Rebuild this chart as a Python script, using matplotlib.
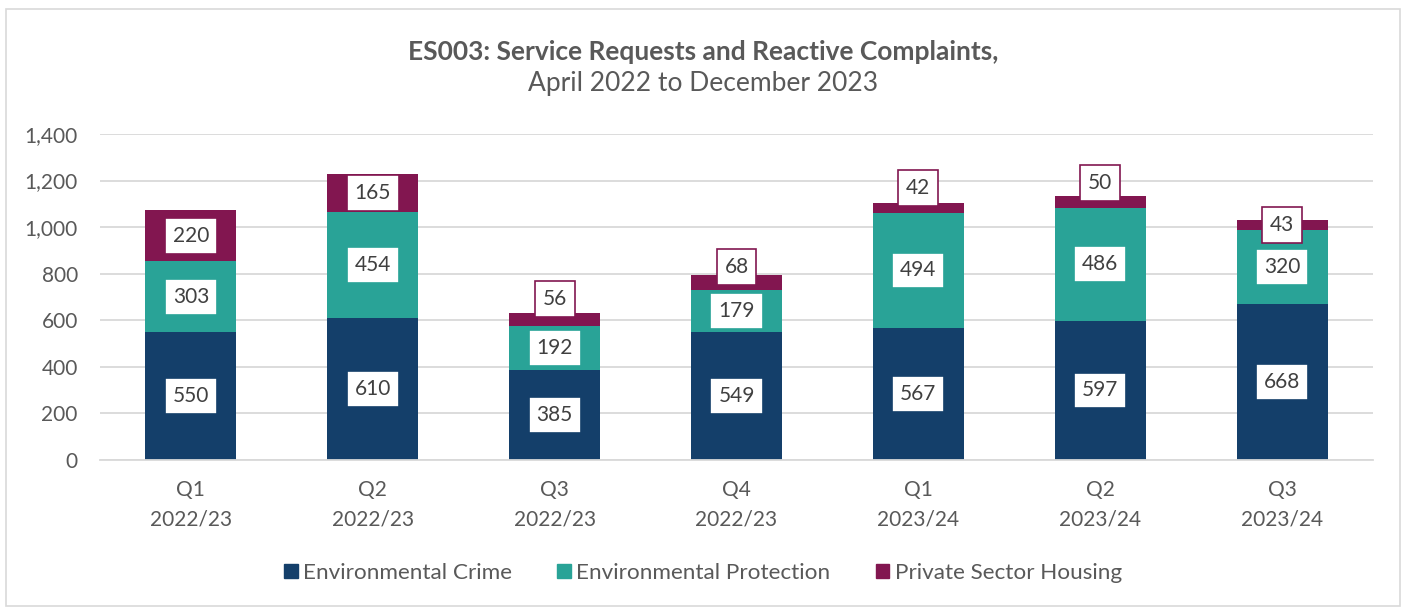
import matplotlib
matplotlib.use("Agg")
import matplotlib.pyplot as plt
from matplotlib.patches import Rectangle, Patch

categories = ["Q1\n2022/23", "Q2\n2022/23", "Q3\n2022/23", "Q4\n2022/23",
              "Q1\n2023/24", "Q2\n2023/24", "Q3\n2023/24"]
env_crime = [550, 610, 385, 549, 567, 597, 668]
env_protection = [303, 454, 192, 179, 494, 486, 320]
private_housing = [220, 165, 56, 68, 42, 50, 43]
series_names = ["Environmental Crime", "Environmental Protection", "Private Sector Housing"]

# label nudges (data units) for the top segment labels, as placed in the original
top_label_shift = [0, 0, 86, 67, 86, 82, 0]

colors = ["#143F6A", "#29A397", "#821650"]
text_col = "#595959"
label_col = "#404040"

plt.rcParams['font.family'] = ['Lato', 'DejaVu Sans']

fig = plt.figure(figsize=(14.06, 6.08), dpi=100)
ax = fig.add_axes([100 / 1406, 148 / 608, 1273 / 1406, 326 / 608])

x = list(range(len(categories)))
series = [env_crime, env_protection, private_housing]
bottom = [0] * len(categories)
for si, (vals, col) in enumerate(zip(series, colors)):
    ax.bar(x, vals, width=0.5, bottom=bottom, color=col, zorder=2)
    for i, v in enumerate(vals):
        y = bottom[i] + v / 2
        if si == 2:
            y += top_label_shift[i]
        ax.text(i, y, f"{v}", ha="center", va="center", fontsize=15, color=label_col,
                zorder=4,
                bbox=dict(boxstyle="square,pad=0.38", facecolor="white", edgecolor=col, linewidth=1.2))
    bottom = [b + v for b, v in zip(bottom, vals)]

ax.set_xlim(-0.5, len(categories) - 0.5)
ax.set_ylim(0, 1400)
ax.set_yticks(range(0, 1401, 200))
ax.set_yticklabels([f"{t:,}" for t in range(0, 1401, 200)])
ax.set_xticks(x)
ax.set_xticklabels([""] * len(categories))
ax.tick_params(axis="both", length=0, labelsize=15, colors=text_col)
ax.tick_params(axis="y", pad=16)

tr = ax.get_xaxis_transform()
for i, c in enumerate(categories):
    l1, l2 = c.split("\n")
    ax.text(i, -30 / 326, l1, transform=tr, ha="center", va="center", fontsize=15, color=text_col)
    ax.text(i, -60 / 326, l2, transform=tr, ha="center", va="center", fontsize=15, color=text_col)

ax.yaxis.grid(True, color="#D9D9D9", linewidth=1.3, zorder=0)
ax.set_axisbelow(True)
for s in ["top", "right", "left"]:
    ax.spines[s].set_visible(False)
ax.spines["bottom"].set_color("#D9D9D9")
ax.spines["bottom"].set_linewidth(1.3)

fig.text(0.5, 1 - 52 / 608, "ES003: Service Requests and Reactive Complaints,", ha="center", va="center",
         fontsize=19, fontweight="bold", color=text_col)
fig.text(0.5, 1 - 84 / 608, "April 2022 to December 2023", ha="center", va="center",
         fontsize=19, color=text_col)

handles = [Patch(facecolor=c, edgecolor=c) for c in colors]
leg = fig.legend(handles, series_names, loc="center", bbox_to_anchor=(0.5, 1 - 573 / 608), ncol=3,
                 frameon=False, fontsize=16.2, handlelength=0.6, handleheight=0.6,
                 handletextpad=0.25, columnspacing=2.0)
for t in leg.get_texts():
    t.set_color(text_col)

fig.patches.append(Rectangle((6 / 1406, 2 / 608), 1394 / 1406, 597 / 608, transform=fig.transFigure,
                             fill=False, edgecolor="#D9D9D9", linewidth=1.2))

fig.savefig("out.png", dpi=100)
